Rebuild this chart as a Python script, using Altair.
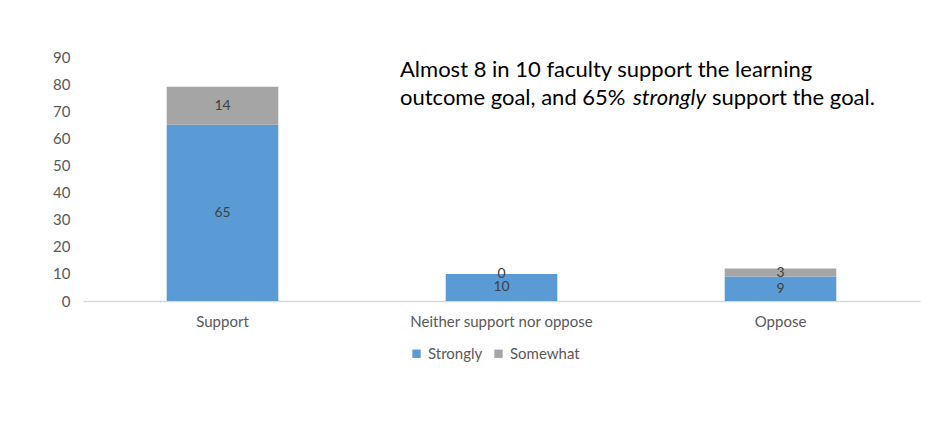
import altair as alt
import pandas as pd

categories = ["Support", "Neither support nor oppose", "Oppose"]
strongly = [65, 10, 9]
somewhat = [14, 0, 3]
series = ["Strongly", "Somewhat"]
colors = ["#5B9BD5", "#A5A5A5"]
y_ticks = [0, 10, 20, 30, 40, 50, 60, 70, 80, 90]

rows = []
for i, c in enumerate(categories):
    rows.append({"category": c, "series": "Strongly", "value": strongly[i], "ord": 0})
    rows.append({"category": c, "series": "Somewhat", "value": somewhat[i], "ord": 1})
df = pd.DataFrame(rows)

FONT = "Lato"

base = alt.Chart(df).transform_stack(
    stack="value", groupby=["category"], as_=["y0", "y1"], sort=[alt.SortField("ord")]
).transform_calculate(mid="(datum.y0 + datum.y1) / 2")

x_axis = alt.Axis(labelAngle=0, ticks=False, domainColor="#D9D9D9", domainWidth=1.5,
                  labelLimit=400,
                  labelFontSize=15, labelColor="#595959", labelFont=FONT, labelPadding=13)
y_axis = alt.Axis(values=y_ticks, grid=False, domain=False, ticks=False, labelOverlap=False,
                  labelFontSize=15, labelColor="#595959", labelFont=FONT, labelPadding=13)
x_scale = alt.Scale(paddingInner=0.6, paddingOuter=0.3)
y_scale = alt.Scale(domain=[0, 90])

bars = base.mark_bar().encode(
    x=alt.X("category:N", sort=categories, title=None, scale=x_scale, axis=x_axis),
    y=alt.Y("y0:Q", title=None, scale=y_scale, axis=y_axis),
    y2="y1:Q",
    color=alt.Color("series:N", sort=series, scale=alt.Scale(domain=series, range=colors),
                    legend=alt.Legend(title=None, orient="none", direction="horizontal",
                                      legendX=326, legendY=289, symbolType="square", symbolSize=70,
                                      symbolStrokeWidth=0, labelFontSize=15, labelColor="#595959",
                                      labelFont=FONT, columnPadding=8, labelOffset=4)),
)

labels = base.mark_text(fontSize=14, color="#404040", font=FONT).encode(
    x=alt.X("category:N", sort=categories, title=None, scale=x_scale, axis=x_axis),
    y=alt.Y("mid:Q", title=None, scale=y_scale, axis=y_axis),
    text="value:Q",
)

ann_df = pd.DataFrame({"t": [0]})
ann = alt.Chart(ann_df)
common = dict(baseline="alphabetic", fontSize=22, font=FONT, color="#000000")
t1 = ann.mark_text(text="Almost 8 in 10 faculty support the learning", align="left", **common).encode(
    x=alt.value(317), y=alt.value(20))
t2 = ann.mark_text(text="outcome goal, and 65%", align="left", **common).encode(
    x=alt.value(317), y=alt.value(48))
t3 = ann.mark_text(text="strongly", align="left", fontStyle="italic", **common).encode(
    x=alt.value(550), y=alt.value(48))
t4 = ann.mark_text(text="support the goal.", align="left", **common).encode(
    x=alt.value(629), y=alt.value(48))

chart = alt.layer(bars, labels, t1, t2, t3, t4).properties(
    width=837, height=244,
    autosize=alt.AutoSizeParams(type="none"),
    padding={"left": 83, "top": 57, "right": 23, "bottom": 123},
    background="white",
).configure_view(stroke="transparent")

chart.save("out.html", embed_options={"renderer": "svg", "actions": False})
